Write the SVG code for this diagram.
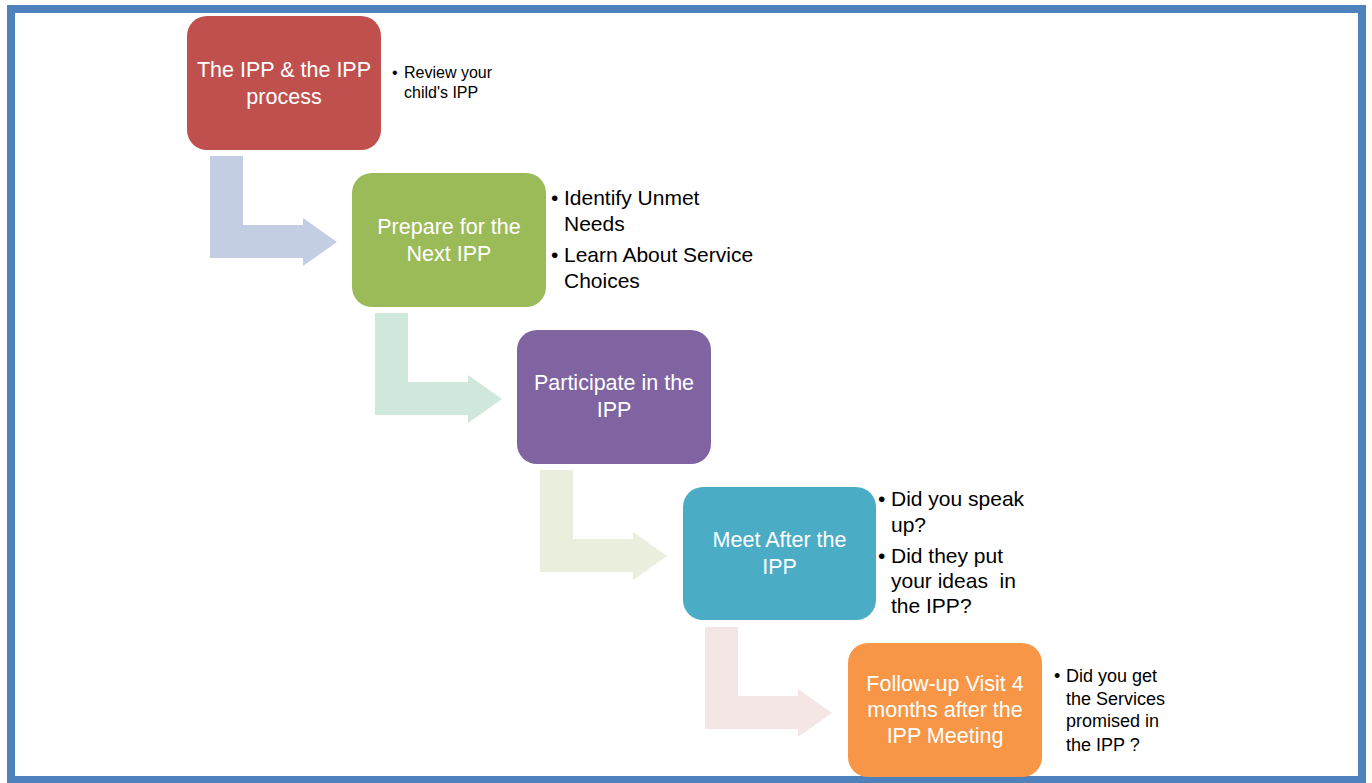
<svg xmlns="http://www.w3.org/2000/svg" width="1372" height="783" viewBox="0 0 1372 783">
<style>
.box{stroke:none}
.bt{font-family:"Liberation Sans",Arial,sans-serif;font-size:21.5px;fill:#ffffff;text-anchor:middle}
.side{font-family:"Liberation Sans",Arial,sans-serif;fill:#000000}
</style>
<rect x="11" y="9" width="1351" height="771" fill="#ffffff" stroke="#4F81BD" stroke-width="8"/>
<g id="connectors">
<polygon fill="#C3CDE3" points="210,156 243,156 243,225 303,225 303,218 337,242 303,266 303,258 210,258"/>
<polygon fill="#CFE8DB" points="375,313 408,313 408,382 468,382 468,375 502,399 468,423 468,415 375,415"/>
<polygon fill="#E9EEDD" points="540,470 573,470 573,539 633,539 633,532 667,556 633,580 633,572 540,572"/>
<polygon fill="#F3E6E5" points="705,627 738,627 738,696 798,696 798,689 832,713 798,737 798,729 705,729"/>
</g>
<g id="node1">
<rect class="box" x="187" y="16" width="194" height="134" rx="20" fill="#C0504D"/>
<text class="bt" x="284" y="77">The IPP &amp; the IPP</text>
<text class="bt" x="284" y="104">process</text>
<text class="side" font-size="16" x="392" y="78">•</text>
<text class="side" font-size="16" x="404" y="78">Review your</text>
<text class="side" font-size="16" x="404" y="98">child's IPP</text>
</g>
<g id="node2">
<rect class="box" x="352" y="173" width="194" height="134" rx="20" fill="#9BBB59"/>
<text class="bt" x="449" y="234">Prepare for the</text>
<text class="bt" x="449" y="261">Next IPP</text>
<g class="side" font-size="21">
<text x="551" y="205">•</text>
<text x="564" y="205">Identify Unmet</text>
<text x="564" y="231">Needs</text>
<text x="551" y="262">•</text>
<text x="564" y="262">Learn About Service</text>
<text x="564" y="288">Choices</text>
</g>
</g>
<g id="node3">
<rect class="box" x="517" y="330" width="194" height="134" rx="20" fill="#8064A2"/>
<text class="bt" x="614" y="390">Participate in the</text>
<text class="bt" x="614" y="417">IPP</text>
</g>
<g id="node4">
<rect class="box" x="683" y="487" width="193" height="133" rx="20" fill="#4BACC6"/>
<text class="bt" x="779.5" y="547">Meet After the</text>
<text class="bt" x="779.5" y="574">IPP</text>
<g class="side" font-size="21">
<text x="878" y="506">•</text>
<text x="891" y="506">Did you speak</text>
<text x="891" y="532">up?</text>
<text x="878" y="563">•</text>
<text x="891" y="563">Did they put</text>
<text x="891" y="588" xml:space="preserve">your ideas  in</text>
<text x="891" y="613">the IPP?</text>
</g>
</g>
<g id="node5">
<rect class="box" x="848" y="643" width="194" height="134" rx="20" fill="#F79646"/>
<text class="bt" x="945" y="691">Follow-up Visit 4</text>
<text class="bt" x="945" y="717">months after the</text>
<text class="bt" x="945" y="743">IPP Meeting</text>
<g class="side" font-size="18">
<text x="1054" y="682">•</text>
<text x="1066" y="682">Did you get</text>
<text x="1066" y="705">the Services</text>
<text x="1066" y="727">promised in</text>
<text x="1066" y="751">the IPP ?</text>
</g>
</g>
</svg>
